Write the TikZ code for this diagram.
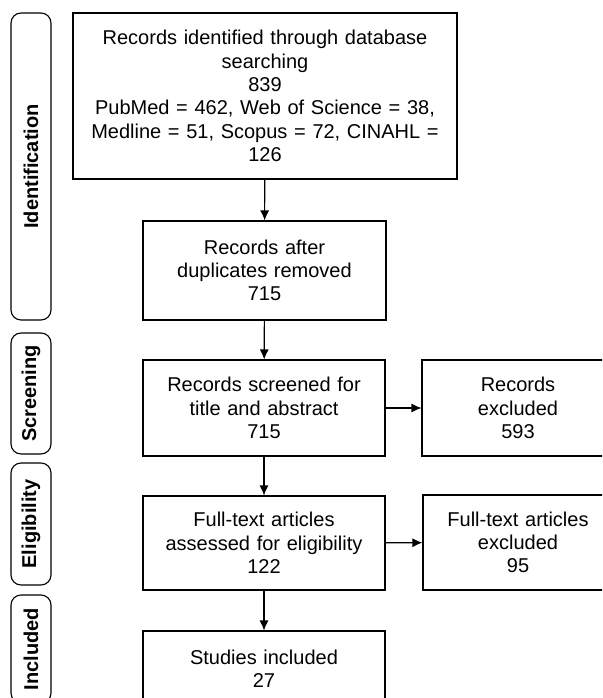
\documentclass[tikz,border=0pt]{standalone}
\usepackage{fontspec}
\setmainfont{Liberation Sans}
\usetikzlibrary{arrows.meta}

\begin{document}
\begin{tikzpicture}[x=1pt,y=-1pt]

        \useasboundingbox (0,0) rectangle (602,698);
        \clip (0,0) rectangle (602,698);

        \begin{scope}[every node/.style={draw, line width=1.1pt, inner sep=0pt, align=center,
            font=\fontsize{20}{23.3}\selectfont}]
          \node[text width=384pt, minimum height=166pt] (found)  at (265,96)    {Records identified through database\\searching\\839\\PubMed = 462, Web of Science = 38,\\Medline = 51, Scopus = 72, CINAHL =\\126};
          \node[text width=243pt, minimum height=99pt]  (dedup)  at (264.5,270.5) {Records after\\duplicates removed\\715};
          \node[text width=242pt, minimum height=96pt]  (screen) at (264,408)   {Records screened for\\title and abstract\\715};
          \node[text width=192pt, minimum height=96pt]  (excl1)  at (518,408)   {Records\\excluded\\593};
          \node[text width=242pt, minimum height=94pt]  (elig)   at (264,543)   {Full-text articles\\assessed for eligibility\\122};
          \node[text width=190pt, minimum height=95pt]  (excl2)  at (518,542.5) {Full-text articles\\excluded\\95};
          \node[text width=242pt, minimum height=75pt]  (incl)   at (264,668.5) {Studies included\\27};
        \end{scope}

        \begin{scope}[every node/.style={draw, line width=1.1pt, rounded corners=10pt, rotate=90,
            inner sep=0pt, minimum height=40pt, font=\bfseries\fontsize{20}{24}\selectfont}]
          \node[minimum width=307pt] (identification) at (31,166.5) {Identification};
          \node[minimum width=121pt] (screening)      at (31,393.5) {Screening};
          \node[minimum width=122pt] (eligibility)    at (31,524)   {Eligibility};
          \node[minimum width=108pt] (included)       at (31,649)   {Included};
        \end{scope}

        \begin{scope}[every edge/.style={draw, line width=1.1pt, -{Latex[length=10pt,width=9pt]}}]
          \path (found)  edge (dedup);
          \path (dedup)  edge (screen);
          \path (screen) edge (elig);
          \path (elig)   edge (incl);
          \path (screen) edge (excl1);
          \path (elig)   edge (excl2);
        \end{scope}

      \end{tikzpicture}
\end{document}
